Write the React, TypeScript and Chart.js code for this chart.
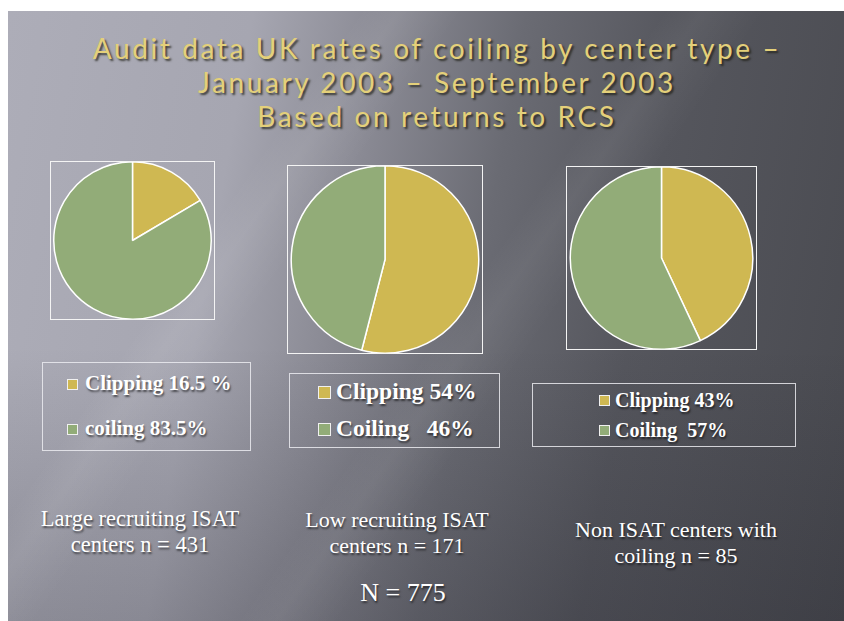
import React, { useEffect, useRef } from 'react';
import { Chart, registerables } from 'chart.js';

Chart.register(...registerables);

// ---------- data ----------
const categories = ['Clipping', 'Coiling'];
const largeCentreValues = [16.5, 83.5];
const lowCentreValues = [54, 46];
const nonIsatValues = [43, 57];

const largeLegendLabels = ['Clipping 16.5 %', 'coiling 83.5%'];
const lowLegendLabels = ['Clipping 54%', 'Coiling   46%'];
const nonIsatLegendLabels = ['Clipping 43%', 'Coiling  57%'];

const largeCaption = ['Large recruiting ISAT', 'centers n = 431'];
const lowCaption = ['Low recruiting ISAT', 'centers n = 171'];
const nonIsatCaption = ['Non ISAT centers with', 'coiling n = 85'];
const totalCaption = 'N = 775';

const titleLines = [
  'Audit data UK rates of coiling by center type –',
  'January 2003 – September 2003',
  'Based on returns to RCS',
];

const sliceColors = ['#CFB852', '#92AC78'];

// ---------- components ----------
function PieBox(props: { values: number[]; left: number; top: number; w: number; h: number }) {
  const ref = useRef<HTMLCanvasElement | null>(null);
  useEffect(() => {
    if (!ref.current) return;
    const chart = new Chart(ref.current, {
      type: 'pie',
      data: {
        labels: categories,
        datasets: [
          {
            data: props.values,
            backgroundColor: sliceColors,
            borderColor: '#ffffff',
            borderWidth: 1.5,
          },
        ],
      },
      options: {
        responsive: false,
        animation: false,
        layout: { padding: 0 },
        plugins: { legend: { display: false }, tooltip: { enabled: false } },
      },
    });
    return () => chart.destroy();
  }, []);
  return (
    <>
      <canvas
        ref={ref}
        width={props.w}
        height={props.h}
        style={{
          position: 'absolute',
          left: props.left,
          top: props.top,
          display: 'block',
          width: props.w,
          height: props.h,
        }}
      />
      <div
        style={{
          position: 'absolute',
          left: props.left,
          top: props.top,
          width: props.w,
          height: props.h,
          border: '1.5px solid #f4f4f4',
          boxSizing: 'border-box',
        }}
      />
    </>
  );
}

const serif = '"Liberation Serif", "Times New Roman", serif';
const textShadow = '1px 2px 2px rgba(0,0,0,0.55)';

function Legend(props: {
  labels: string[];
  left: number;
  top: number;
  w: number;
  h: number;
  markerX: number;
  markerSize: number;
  textX: number;
  baselines: number[];
  fontSize: number;
}) {
  const fs = props.fontSize;
  return (
    <>
      <div
        style={{
          position: 'absolute',
          left: props.left,
          top: props.top,
          width: props.w,
          height: props.h,
          border: '1px solid rgba(235,235,240,0.85)',
          boxSizing: 'border-box',
        }}
      />
      {props.labels.map((lab, i) => (
        <React.Fragment key={i}>
          <div
            style={{
              position: 'absolute',
              left: props.markerX,
              top: props.baselines[i] - fs * 0.33 - props.markerSize / 2,
              width: props.markerSize,
              height: props.markerSize,
              background: sliceColors[i],
              border: '1.5px solid #f0f0f0',
              boxSizing: 'border-box',
            }}
          />
          <div
            style={{
              position: 'absolute',
              left: props.textX,
              top: props.baselines[i] - fs * 0.8375,
              fontFamily: serif,
              fontWeight: 'bold',
              fontSize: fs,
              lineHeight: fs + 'px',
              color: '#ffffff',
              whiteSpace: 'pre',
              textShadow,
            }}
          >
            {lab}
          </div>
        </React.Fragment>
      ))}
    </>
  );
}

function Caption(props: { lines: string[]; cx: number; baselines: number[]; fontSize: number }) {
  const fs = props.fontSize;
  return (
    <>
      {props.lines.map((line, i) => (
        <div
          key={i}
          style={{
            position: 'absolute',
            left: props.cx - 200,
            width: 400,
            textAlign: 'center',
            top: props.baselines[i] - fs * 0.8375,
            fontFamily: serif,
            fontSize: fs,
            lineHeight: fs + 'px',
            color: '#ffffff',
            whiteSpace: 'pre',
            textShadow,
          }}
        >
          {line}
        </div>
      ))}
    </>
  );
}

export default function App() {
  const titleFs = 28;
  const titleLineH = 34;
  const firstBaseline = 59;
  const titleTop = firstBaseline - ((titleLineH - 1.2 * titleFs) / 2 + 0.987 * titleFs);
  return (
    <div style={{ position: 'absolute', left: 0, top: 0, width: 844, height: 621, overflow: 'hidden' }}>
      <div
        style={{
          position: 'absolute',
          left: 8,
          top: 11,
          width: 836,
          height: 610,
          background:
            'linear-gradient(125deg, rgba(255,255,255,0) 28%, rgba(255,255,255,0.07) 31%, rgba(255,255,255,0) 36%, rgba(255,255,255,0) 52%, rgba(255,255,255,0.05) 55%, rgba(255,255,255,0) 60%), linear-gradient(180deg, rgba(0,0,0,0) 55%, rgba(20,20,30,0.2) 100%), linear-gradient(100deg, #adadb8 0%, #a6a6b1 26%, #8a8a94 40%, #6a6b73 55%, #55565d 72%, #494a50 100%)',
        }}
      />
      <div
        style={{
          position: 'absolute',
          left: 437 - 420,
          width: 840,
          textAlign: 'center',
          top: titleTop,
          fontFamily: 'Lato, "Open Sans", sans-serif',
          fontSize: titleFs,
          letterSpacing: '2.6px',
          lineHeight: titleLineH + 'px',
          color: '#E4D07A',
          whiteSpace: 'pre',
          textShadow: '2px 2px 2px rgba(30,30,20,0.75)',
        }}
      >
        {titleLines.map((t, i) => (
          <React.Fragment key={i}>
            {t}
            {i < titleLines.length - 1 ? <br /> : null}
          </React.Fragment>
        ))}
      </div>

      <PieBox values={largeCentreValues} left={50} top={161} w={165} h={159} />
      <PieBox values={lowCentreValues} left={287} top={165} w={196} h={189} />
      <PieBox values={nonIsatValues} left={566} top={166} w={191} h={184} />

      <Legend
        labels={largeLegendLabels}
        left={42}
        top={362}
        w={209}
        h={89}
        markerX={67}
        markerSize={11}
        textX={85}
        baselines={[391, 436]}
        fontSize={21}
      />
      <Legend
        labels={lowLegendLabels}
        left={289}
        top={373}
        w={211}
        h={75}
        markerX={318}
        markerSize={13}
        textX={336}
        baselines={[400, 437]}
        fontSize={23.5}
      />
      <Legend
        labels={nonIsatLegendLabels}
        left={532}
        top={383}
        w={264}
        h={64}
        markerX={599}
        markerSize={11}
        textX={615}
        baselines={[407, 437]}
        fontSize={20}
      />

      <Caption lines={largeCaption} cx={140} baselines={[527, 553]} fontSize={22.5} />
      <Caption lines={lowCaption} cx={397} baselines={[527, 553]} fontSize={22} />
      <Caption lines={nonIsatCaption} cx={676} baselines={[537, 563]} fontSize={22} />
      <Caption lines={[totalCaption]} cx={403} baselines={[602]} fontSize={26} />
    </div>
  );
}
